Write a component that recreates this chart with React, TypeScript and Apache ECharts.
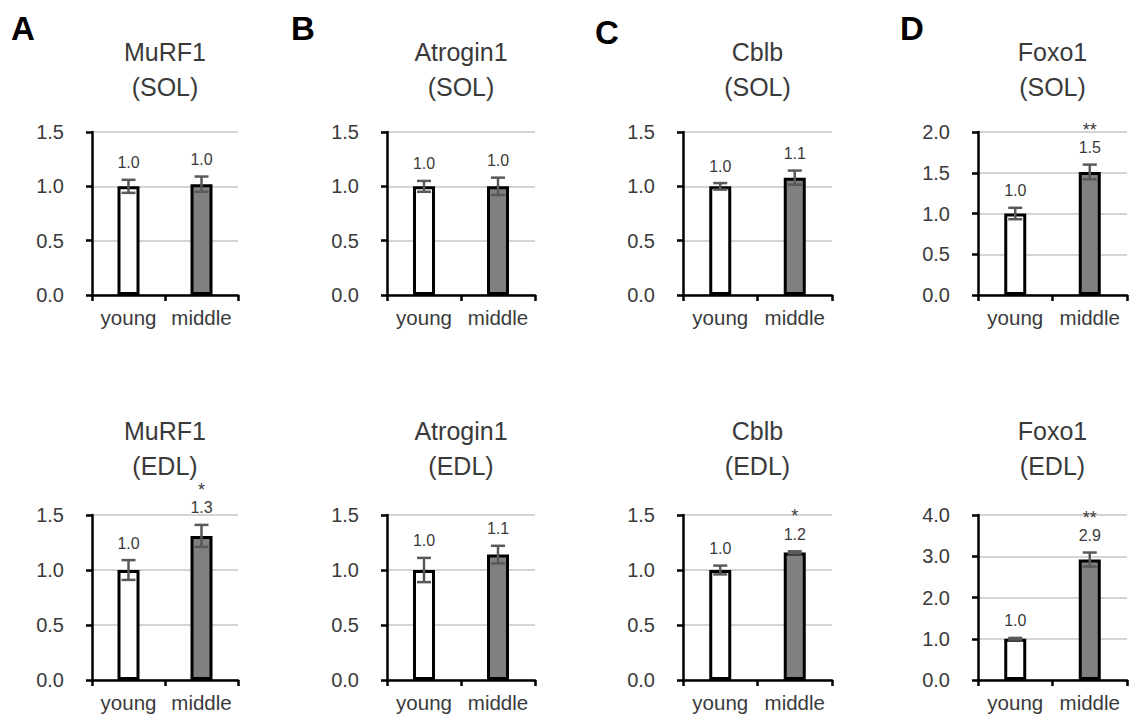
import React, { useEffect, useRef } from "react";
import * as echarts from "echarts";

const categories = ["young", "middle"];
const panelLetters = ["A", "B", "C", "D"];
const panelTitles = [
  "MuRF1\n(SOL)", "Atrogin1\n(SOL)", "Cblb\n(SOL)", "Foxo1\n(SOL)",
  "MuRF1\n(EDL)", "Atrogin1\n(EDL)", "Cblb\n(EDL)", "Foxo1\n(EDL)",
];
const means = [
  [1.0, 1.02], [1.0, 1.0], [1.0, 1.08], [1.0, 1.51],
  [1.0, 1.31], [1.0, 1.14], [1.0, 1.16], [1.0, 2.92],
];
const errors = [
  [0.06, 0.07], [0.05, 0.08], [0.03, 0.065], [0.07, 0.09],
  [0.09, 0.1], [0.11, 0.08], [0.04, 0.01], [0.02, 0.17],
];
const valueLabels = [
  ["1.0", "1.0"], ["1.0", "1.0"], ["1.0", "1.1"], ["1.0", "1.5"],
  ["1.0", "1.3"], ["1.0", "1.1"], ["1.0", "1.2"], ["1.0", "2.9"],
];
const significance = [
  ["", ""], ["", ""], ["", ""], ["", "**"],
  ["", "*"], ["", ""], ["", "*"], ["", "**"],
];
const yMax = [1.5, 1.5, 1.5, 2.0, 1.5, 1.5, 1.5, 4.0];
const yInterval = [0.5, 0.5, 0.5, 0.5, 0.5, 0.5, 0.5, 1.0];
const barColors = ["#ffffff", "#808080"];

const FONT = "'Liberation Sans', Arial, sans-serif";

// layout (pixels)
const colLeft = [92, 387, 683, 978];
const colWidth = [146, 148, 149, 149];
const rowTop = [132, 515];
const rowHeight = [163, 165];
const titleY = [34, 413];
const letterPos = [[11, 12], [291, 12], [595, 16], [900, 12]];

export default function App() {
  const ref = useRef<HTMLDivElement>(null);
  useEffect(() => {
    if (!ref.current) return;
    const chart = echarts.init(ref.current, null, { renderer: "svg" });
    const grids: any[] = [];
    const xAxes: any[] = [];
    const yAxes: any[] = [];
    const series: any[] = [];
    const graphics: any[] = [];

    for (let i = 0; i < 8; i++) {
      const col = i % 4;
      const row = Math.floor(i / 4);
      grids.push({
        left: colLeft[col],
        top: rowTop[row],
        width: colWidth[col],
        height: rowHeight[row],
        containLabel: false,
      });
      xAxes.push({
        type: "category",
        gridIndex: i,
        data: categories,
        axisLine: { lineStyle: { color: "#000", width: 2.5 } },
        axisTick: { show: true, length: 6, lineStyle: { color: "#000", width: 2.5 } },
        axisLabel: {
          interval: 0,
          hideOverlap: false,
          color: "#3a3a3a",
          fontSize: 20.5,
          fontFamily: FONT,
          margin: 12,
        },
        splitLine: { show: false },
      });
      yAxes.push({
        type: "value",
        gridIndex: i,
        min: 0,
        max: yMax[i],
        interval: yInterval[i],
        axisLine: { show: true, lineStyle: { color: "#000", width: 2.5 } },
        axisTick: { show: true, length: 6, lineStyle: { color: "#000", width: 2.5 } },
        axisLabel: {
          color: "#3a3a3a",
          fontSize: 20,
          fontFamily: FONT,
          margin: 28,
          formatter: (v: number) => v.toFixed(1),
        },
        splitLine: { show: true, lineStyle: { color: "#d4d4d4", width: 2 } },
      });
      series.push({
        type: "bar",
        xAxisIndex: i,
        yAxisIndex: i,
        barWidth: 22,
        data: means[i].map((m, k) => ({
          value: m,
          itemStyle: { color: barColors[k], borderColor: "#000", borderWidth: 3 },
        })),
        z: 2,
      });
      series.push({
        type: "custom",
        xAxisIndex: i,
        yAxisIndex: i,
        clip: false,
        z: 5,
        data: means[i].map((m, k) => [k, m, errors[i][k], k]),
        renderItem: (params: any, api: any) => {
          const k = api.value(0);
          const m = api.value(1);
          const e = api.value(2);
          const top = api.coord([k, m + e]);
          const bot = api.coord([k, m - e]);
          const x = top[0];
          const cap = 7;
          const style = { stroke: "#595959", lineWidth: 2.5 };
          const sig = significance[i][k];
          const children: any[] = [
            { type: "line", shape: { x1: x, y1: top[1], x2: x, y2: bot[1] }, style },
            { type: "line", shape: { x1: x - cap, y1: top[1], x2: x + cap, y2: top[1] }, style },
            { type: "line", shape: { x1: x - cap, y1: bot[1], x2: x + cap, y2: bot[1] }, style },
            {
              type: "text",
              x: x,
              y: top[1] - 17,
              style: {
                text: valueLabels[i][k],
                textAlign: "center",
                textVerticalAlign: "middle",
                fill: "#3a3a3a",
                font: `16px ${FONT}`,
              },
            },
          ];
          if (sig) {
            children.push({
              type: "text",
              x: x,
              y: top[1] - 35,
              style: {
                text: sig,
                textAlign: "center",
                textVerticalAlign: "middle",
                fill: "#3a3a3a",
                font: `18px ${FONT}`,
              },
            });
          }
          return { type: "group", children };
        },
      });
      graphics.push({
        type: "text",
        x: colLeft[col] + colWidth[col] / 2,
        y: titleY[row],
        style: {
          text: panelTitles[i],
          textAlign: "center",
          textVerticalAlign: "top",
          fill: "#3a3a3a",
          font: `25px ${FONT}`,
          lineHeight: 35,
        },
      });
    }
    panelLetters.forEach((L, c) => {
      graphics.push({
        type: "text",
        x: letterPos[c][0],
        y: letterPos[c][1],
        style: {
          text: L,
          textAlign: "left",
          textVerticalAlign: "top",
          fill: "#000",
          font: `bold 33px ${FONT}`,
        },
      });
    });

    chart.setOption({
      animation: false,
      backgroundColor: "#ffffff",
      grid: grids,
      xAxis: xAxes,
      yAxis: yAxes,
      series,
      graphic: graphics,
    });
    return () => chart.dispose();
  }, []);
  return (
    <div
      ref={ref}
      style={{ position: "fixed", left: 0, top: 0, width: 1133, height: 717 }}
    />
  );
}
